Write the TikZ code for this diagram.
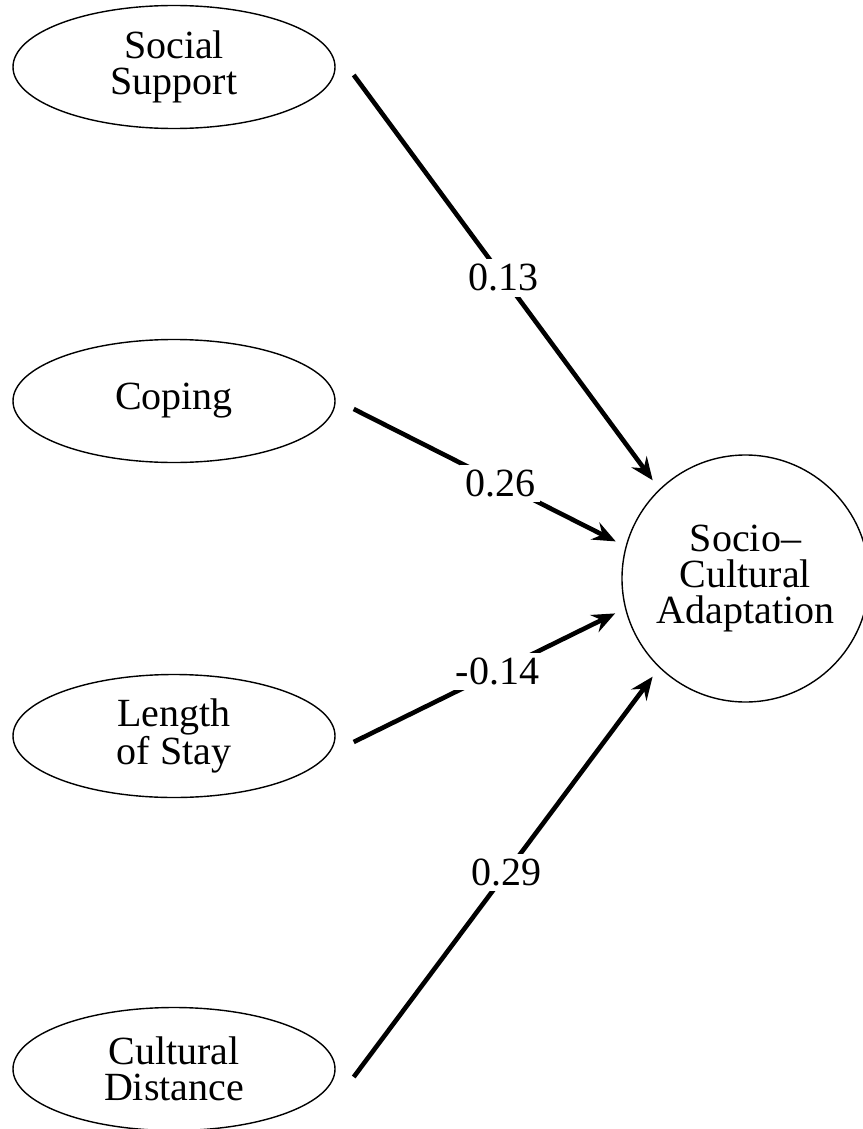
\documentclass[tikz,border=0pt]{standalone}
\usepackage{fontspec}
\setmainfont{Liberation Serif}
\usetikzlibrary{shapes.geometric, arrows.meta}
\tikzset{
	factor/.style = {align=center, inner sep=0pt, text centered, font=\fontsize{40}{36}\selectfont},
	cause/.style = {factor, ellipse, draw=black, line width=1.4pt, minimum width=322pt, minimum height=123pt},
	effect/.style = {factor, circle, draw=black, line width=1.4pt, minimum size=247pt},
	path/.style = {line width=4.6pt, -{Stealth[length=23pt, width=19pt, inset=8pt]}, shorten >=11pt},
	weight/.style = {fill=white, inner sep=5pt, font=\fontsize{40}{36}\selectfont}
}
\begin{document}
\begin{tikzpicture}[x=1pt, y=-1pt]
		\useasboundingbox (0,0) rectangle (862,1129);
		\node [cause] (support) at (174,67) {Social\\Support};
		\node [cause] (coping) at (174,401) {Coping};
		\node [cause] (stay) at (174,736) {Length\\of Stay};
		\node [cause] (distance) at (174,1069) {Cultural\\Distance};
		\node [effect] (adapt) at (745.5,578.5) {Socio–\\Cultural\\Adaptation};

		\draw [path] ([shift={(18,8)}]support.east) -- node [weight, pos=0.49] {0.13} (adapt.134);
		\draw [path] ([shift={(18,8)}]coping.east) -- node [weight, pos=0.54] {0.26} (adapt.165);
		\draw [path] ([shift={(18,6)}]stay.east) -- node [weight, pos=0.53] {-0.14} (adapt.194);
		\draw [path] ([shift={(18,8)}]distance.east) -- node [weight, pos=0.5] {0.29} (adapt.226);
\end{tikzpicture}
\end{document}
